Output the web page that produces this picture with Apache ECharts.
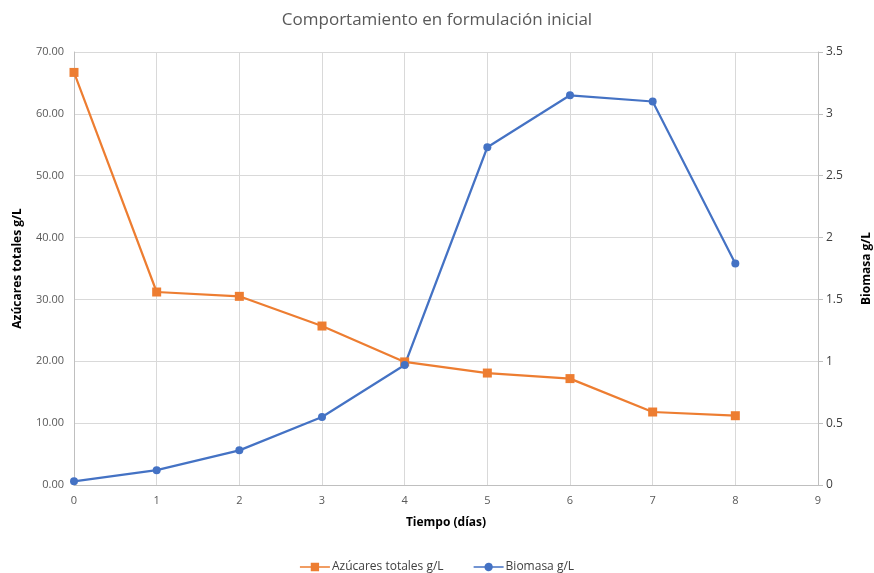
<!DOCTYPE html>
<html><head><meta charset="utf-8">
<script src="https://cdn.jsdelivr.net/npm/echarts@6/dist/echarts.min.js"></script>
<style>html,body{margin:0;padding:0;background:#fff}#c{width:874px;height:573px}</style>
</head><body><div id="c"></div>
<script>
const days = [0,1,2,3,4,5,6,7,8];
const azucares = [66.7,31.2,30.5,25.7,19.9,18.1,17.2,11.8,11.2];
const biomasa = [0.03,0.12,0.28,0.55,0.97,2.73,3.15,3.10,1.79];
const seriesNames = ['Azúcares totales g/L','Biomasa g/L'];
const font = 'Open Sans, Liberation Sans, sans-serif';
const iconSquare = 'path://M0,4.2H13V0H23V4.2H36V5.8H23V10H13V5.8H0Z';
const iconCircle = 'path://M0,4.2H13.06A5,5 0 0 1 22.94,4.2H36V5.8H22.94A5,5 0 0 1 13.06,5.8H0Z';
const chart = echarts.init(document.getElementById('c'));
chart.setOption({
  animation:false,
  title:{text:'Comportamiento en formulación inicial',left:'center',top:7,
    textStyle:{fontFamily:font,fontSize:17,fontWeight:'normal',color:'#595959'}},
  grid:{left:74,right:56,top:52,bottom:88,containLabel:false,outerBoundsMode:'none'},
  legend:{top:556,left:'center',itemGap:30,itemWidth:30,itemHeight:9,
    textStyle:{fontFamily:font,fontSize:12,color:'#404040',padding:[0,0,0,-3]},
    data:[{name:seriesNames[0],icon:iconSquare},{name:seriesNames[1],icon:iconCircle}]},
  xAxis:{type:'value',min:0,max:9,interval:1,
    name:'Tiempo (días)',nameLocation:'middle',nameGap:32,
    nameTextStyle:{fontFamily:font,fontSize:12,fontWeight:'bold',color:'#000'},
    axisLine:{show:true,lineStyle:{color:'#bfbfbf'}},axisTick:{show:false},
    axisLabel:{fontFamily:font,fontSize:11,color:'#595959',margin:10},
    splitLine:{show:true,lineStyle:{color:'#d9d9d9'}}},
  yAxis:[{type:'value',min:0,max:70,interval:10,
    name:'Azúcares totales g/L',nameLocation:'middle',nameGap:50,
    nameTextStyle:{fontFamily:font,fontSize:12,fontWeight:'bold',color:'#000'},
    axisLine:{show:true,lineStyle:{color:'#bfbfbf'}},axisTick:{show:false},
    axisLabel:{fontFamily:font,fontSize:11,color:'#595959',margin:10,formatter:v=>v.toFixed(2)},
    splitLine:{show:true,lineStyle:{color:'#d9d9d9'}}},
   {type:'value',min:0,max:3.5,interval:0.5,position:'right',
    name:'Biomasa g/L',nameLocation:'middle',nameGap:43,
    nameTextStyle:{fontFamily:font,fontSize:12,fontWeight:'bold',color:'#000'},
    axisLine:{show:true,lineStyle:{color:'#bfbfbf'}},axisTick:{show:true,length:5,lineStyle:{color:'#bfbfbf'}},
    axisLabel:{fontFamily:font,fontSize:12,color:'#404040',margin:8},
    splitLine:{show:false}}],
  series:[
    {name:seriesNames[0],type:'line',yAxisIndex:0,data:days.map((d,i)=>[d,azucares[i]]),
     symbol:'rect',symbolSize:9,itemStyle:{color:'#ED7D31'},lineStyle:{color:'#ED7D31',width:2.2}},
    {name:seriesNames[1],type:'line',yAxisIndex:1,data:days.map((d,i)=>[d,biomasa[i]]),
     symbol:'circle',symbolSize:8,itemStyle:{color:'#4472C4'},lineStyle:{color:'#4472C4',width:2.2}}
  ]
});
</script></body></html>
